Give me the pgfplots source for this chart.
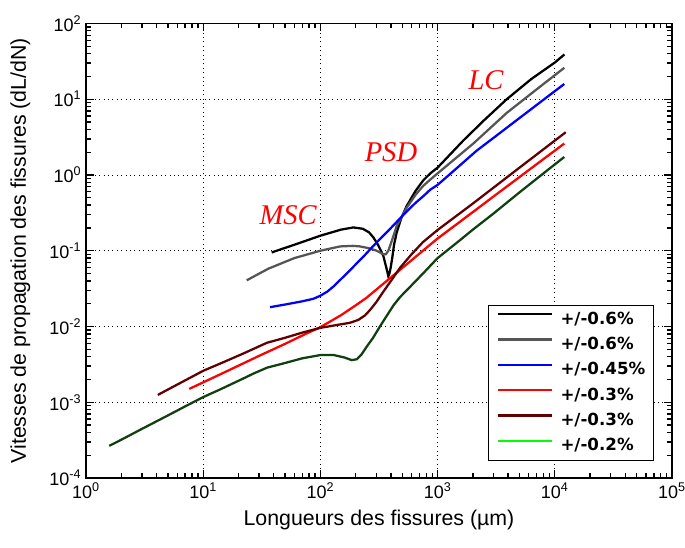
\documentclass[border=0pt]{standalone}
\usepackage{fontspec}
\setmainfont{Liberation Sans}
\newfontfamily\timesfont{Liberation Serif}
\newfontfamily\legfont{DejaVu Sans}
\usepackage{pgfplots}
\usetikzlibrary{calc}
\pgfplotsset{compat=1.18}
\definecolor{cgray}{RGB}{85,85,85}
\definecolor{cmaroon}{RGB}{96,0,0}
\definecolor{cdgreen}{RGB}{16,64,16}
\begin{document}
\begin{tikzpicture}
\begin{axis}[
  name=ax,
  scale only axis,
  width=439.5pt, height=340.9pt,
  xmode=log, ymode=log,
  xmin=1, xmax=100000, ymin=1e-4, ymax=100,
  xtick={1,10,100,1000,10000,100000},
  minor xtick={2,3,4,5,6,7,8,9,20,30,40,50,60,70,80,90,200,300,400,500,600,700,800,900,2000,3000,4000,5000,6000,7000,8000,9000,20000,30000,40000,50000,60000,70000,80000,90000},
  xticklabels={{10\textsuperscript{0}},{10\textsuperscript{1}},{10\textsuperscript{2}},{10\textsuperscript{3}},{10\textsuperscript{4}},{10\textsuperscript{5}}},
  ytick={1e-4,1e-3,1e-2,1e-1,1,10,100},
  minor ytick={2e-4,3e-4,4e-4,5e-4,6e-4,7e-4,8e-4,9e-4,2e-3,3e-3,4e-3,5e-3,6e-3,7e-3,8e-3,9e-3,0.02,0.03,0.04,0.05,0.06,0.07,0.08,0.09,0.2,0.3,0.4,0.5,0.6,0.7,0.8,0.9,2,3,4,5,6,7,8,9,20,30,40,50,60,70,80,90},
  yticklabels={{10\textsuperscript{-4}},{10\textsuperscript{-3}},{10\textsuperscript{-2}},{10\textsuperscript{-1}},{10\textsuperscript{0}},{10\textsuperscript{1}},{10\textsuperscript{2}}},
  ticklabel style={font=\fontsize{13.5}{16}\selectfont},
  tick align=inside,
  major tick length=6pt, minor tick length=3.5pt,
  xtick style={draw=black, solid, line width=1pt},
  ytick style={draw=black, solid, line width=1pt},
  minor tick style={draw=black, solid, line width=1pt},
  axis line style={black, line width=0.8pt},
  grid=major,
  major grid style={draw=black, line width=0.7pt, dash pattern=on 0.7pt off 2.6pt},
  every axis x label/.style={at={(axis description cs:0.5,-0.092)}, anchor=center},
  every axis y label/.style={at={(axis description cs:-0.112,0.5)}, rotate=90, anchor=center},
  label style={font=\fontsize{16}{18}\selectfont},
  xlabel={Longueurs des fissures (µm)},
  ylabel={Vitesses de propagation des fissures (dL/dN)},
  legend cell align=left,
  legend image code/.code={\draw[#1] (0pt,4pt) -- (40.5pt,4pt);},
  legend style={at={(0.969,0.038)}, anchor=south east, draw=black, line width=0.8pt,
    font=\legfont\bfseries\fontsize{12.5}{14}\selectfont,
    inner xsep=6pt, inner ysep=5pt, row sep=8pt,
    nodes={inner sep=0pt, text height=9pt, text depth=2pt},
    /tikz/every odd column/.append style={column sep=5.8pt}},
  every axis plot/.append style={line width=1.7pt},
]
% black +/-0.6%
\addplot[black] coordinates {
(38.4,0.095) (60,0.12) (100,0.158) (150,0.19) (191,0.203) (230,0.195) (260,0.175)
(283,0.15) (310,0.12) (344,0.086) (368,0.057) (380,0.046) (388,0.05) (398,0.06)
(410,0.08) (425,0.12) (448,0.175) (490,0.27) (545,0.39) (650,0.62) (755,0.85)
(866,1.05) (1000,1.25) (1650,2.83) (2500,5.3) (3890,10) (6310,18.5) (10000,30.5) (12080,39)};
\addlegendentry{+/-0.6\%}
% gray +/-0.6%
\addplot[cgray] coordinates {
(23.5,0.0407) (36,0.058) (60,0.08) (100,0.1) (147,0.114) (190,0.116) (218,0.114)
(260,0.108) (302,0.1) (344,0.09) (362,0.09) (380,0.1) (410,0.14) (448,0.213)
(545,0.37) (650,0.55) (755,0.72) (866,0.87) (1000,1.05) (2017,2.6) (3890,6.6)
(7000,13.5) (12050,26)};
\addlegendentry{+/-0.6\%}
% blue +/-0.45%
\addplot[blue] coordinates {
(37.2,0.018) (50,0.0195) (70,0.0215) (87,0.0232) (100,0.0255) (115,0.029) (130,0.034)
(147,0.041) (170,0.051) (200,0.066) (240,0.088) (283,0.116) (340,0.155) (400,0.2)
(470,0.26) (545,0.33) (650,0.43) (760,0.53) (866,0.64) (1000,0.74) (1500,1.28)
(2150,2.09) (3000,3.09) (3890,4.2) (6000,7.0) (9000,11.3) (12050,15.9)};
\addlegendentry{+/-0.45\%}
% red +/-0.3%
\addplot[red] coordinates {
(7.6,0.0015) (12,0.00209) (20,0.00304) (30,0.0041) (50,0.0059) (75,0.008) (100,0.0098)
(150,0.0141) (200,0.019) (248,0.024) (330,0.0347) (450,0.0518) (600,0.075) (800,0.109)
(1000,0.145) (1500,0.232) (2000,0.324) (3000,0.52) (5000,0.94) (8000,1.62) (12050,2.6)};
\addlegendentry{+/-0.3\%}
% maroon +/-0.3%
\addplot[cmaroon] coordinates {
(4.1,0.00125) (6,0.00171) (10,0.0026) (15,0.0034) (22,0.0044) (35,0.0061) (50,0.0071)
(70,0.0083) (100,0.0096) (140,0.0105) (179,0.0112) (210,0.0122) (240,0.014) (265,0.0165)
(300,0.021) (340,0.028) (400,0.040) (480,0.060) (600,0.09) (750,0.13) (1000,0.188)
(2000,0.42) (5000,1.25) (12400,3.67)};
\addlegendentry{+/-0.3\%}
% dark green +/-0.2%
\addplot[cdgreen, forget plot] coordinates {
(1.58,0.000266) (2,0.00032) (3,0.000445) (5,0.00067) (7,0.00088) (10,0.00117) (14,0.00148)
(20,0.00192) (27,0.0024) (35,0.00286) (50,0.0033) (70,0.0038) (100,0.0042) (130,0.0042)
(160,0.0039) (185,0.0036) (205,0.0037) (225,0.0043) (250,0.0055) (280,0.007) (322,0.01)
(370,0.014) (420,0.019) (478,0.0244) (600,0.035) (750,0.05) (1000,0.08) (1500,0.132)
(2000,0.19) (3000,0.31) (5000,0.59) (8000,1.05) (12050,1.73)};
\addlegendimage{green, line width=1.7pt}
\addlegendentry{+/-0.2\%}
\node[red, font=\timesfont\itshape\fontsize{21.4}{24}\selectfont] at (axis cs:53,0.296) {MSC};
\node[red, font=\timesfont\itshape\fontsize{21.4}{24}\selectfont] at (axis cs:400,2.01) {PSD};
\node[red, font=\timesfont\itshape\fontsize{21.4}{24}\selectfont] at (axis cs:2590,17.9) {LC};
\end{axis}
\pgfresetboundingbox
\path[use as bounding box] ($(ax.south west)+(-64.5pt,-51.75pt)$) rectangle ($(ax.north east)+(9.75pt,17.6pt)$);
\end{tikzpicture}
\end{document}
